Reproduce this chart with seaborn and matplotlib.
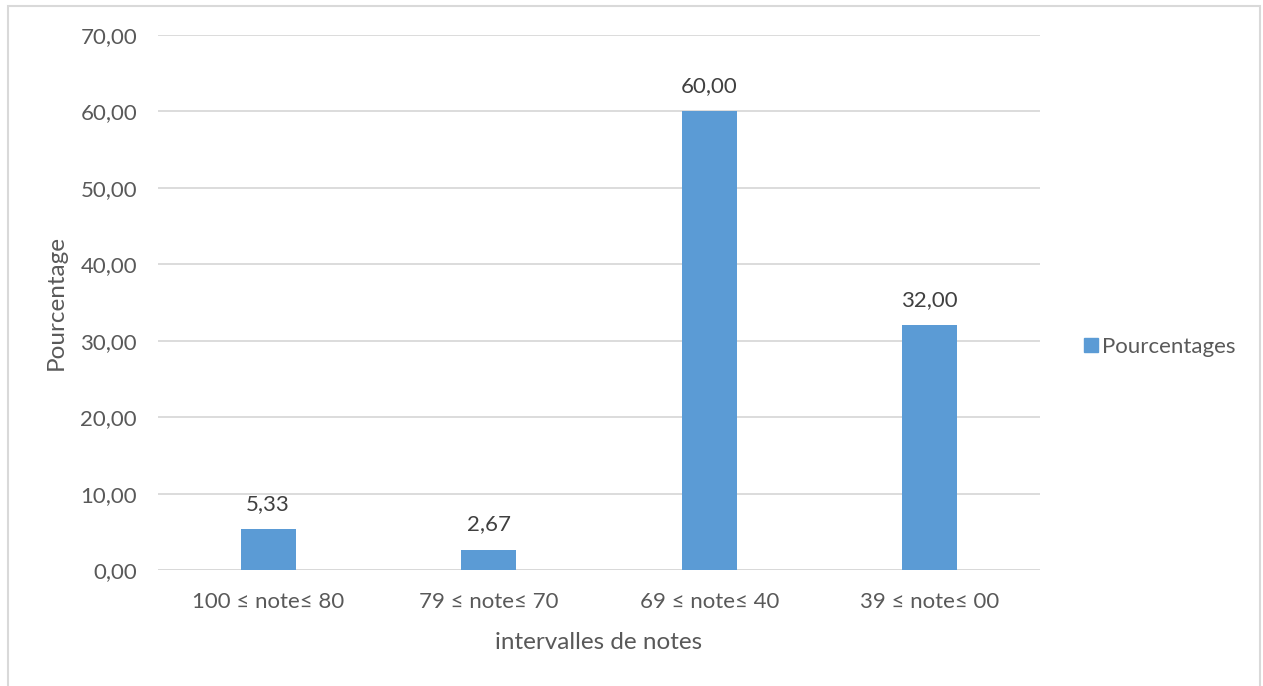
import matplotlib
matplotlib.use("Agg")
import matplotlib.pyplot as plt
from matplotlib.patches import Rectangle
from matplotlib.lines import Line2D
import seaborn as sns
import pandas as pd

# Score intervals and share of students in each
categories = ["100 ≤ note≤ 80", "79 ≤ note≤ 70", "69 ≤ note≤ 40", "39 ≤ note≤ 00"]
pourcentages = [5.33, 2.67, 60.00, 32.00]
y_ticks = [0, 10, 20, 30, 40, 50, 60, 70]

BAR = "#5B9BD5"
TXT = "#595959"
GRID = "#D9D9D9"

sns.set_theme(style="white")
plt.rcParams["font.family"] = ["Lato", "DejaVu Sans"]

df = pd.DataFrame({"intervalle": categories, "pct": pourcentages})

fig = plt.figure(figsize=(12.63, 6.86), dpi=100)
ax = fig.add_axes([0.125, 0.169, 0.6985, 0.780])

sns.barplot(data=df, x="intervalle", y="pct", color=BAR, width=0.25,
            saturation=1, linewidth=0, ax=ax, zorder=3)

ax.set_ylim(0, 70)
ax.set_xlim(-0.5, 3.5)
ax.set_yticks(y_ticks)
ax.set_yticklabels([f"{v:.2f}".replace(".", ",") for v in y_ticks])
ax.yaxis.grid(True, color=GRID, linewidth=1.3, zorder=0)
ax.set_axisbelow(True)
for s in ax.spines.values():
    s.set_visible(False)
ax.axhline(0, color=GRID, linewidth=1.3, zorder=2)

ax.tick_params(axis="both", length=0, labelsize=16, labelcolor=TXT)
ax.tick_params(axis="y", pad=15)
ax.tick_params(axis="x", pad=16)

ax.set_xlabel("intervalles de notes", fontsize=17.5, color=TXT, labelpad=14)
ax.set_ylabel("Pourcentage", fontsize=17.5, color=TXT, labelpad=10)

for i, v in enumerate(pourcentages):
    ax.annotate(f"{v:.2f}".replace(".", ","), (i, v), xytext=(0, 11),
                textcoords="offset points", ha="center", va="bottom",
                fontsize=16, color="#404040")

handle = Line2D([], [], marker="s", linestyle="none", markersize=9.5,
                markerfacecolor=BAR, markeredgecolor=BAR)
fig.legend([handle], ["Pourcentages"], loc="center left",
           bbox_to_anchor=(0.839, 0.494), frameon=False, fontsize=16,
           labelcolor=TXT, handletextpad=0.0, handlelength=1.0)

# chart-area frame
fig.patches.append(Rectangle((8 / 1263, -0.01), 1252 / 1263, 1 - 6 / 686 + 0.01,
                             transform=fig.transFigure, fill=False,
                             edgecolor=GRID, linewidth=1.5))

fig.savefig("out.png", dpi=100, facecolor="white")
